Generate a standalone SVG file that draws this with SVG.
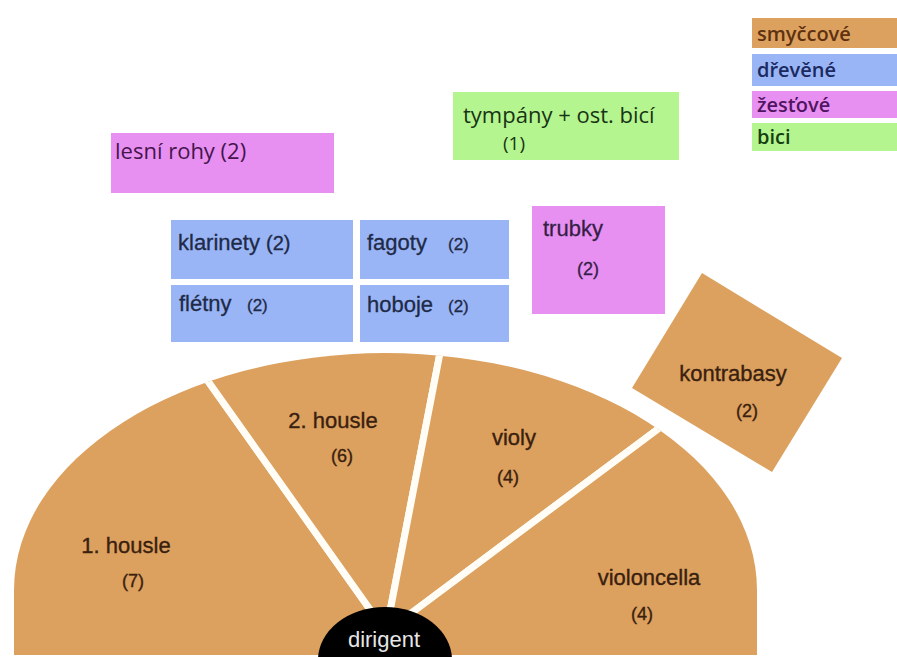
<svg xmlns="http://www.w3.org/2000/svg" width="897" height="657" viewBox="0 0 897 657">
<style>
.str{fill:#DCA15E}
.slice{fill:#DCA15E;stroke:#FFFDF6;stroke-width:7;stroke-linejoin:round}
.wood{fill:#9AB5F5}
.brass{fill:#E890F2}
.perc{fill:#B5F58F}
.ft{font-family:"Liberation Sans",Arial,sans-serif;fill:#3A200F;stroke:#3A200F;stroke-width:0.35}
.big{font-size:22px}
.num{font-size:18px}
.cal{font-family:"Open Sans","Noto Sans",sans-serif}
.leg{font-weight:600}
.lab{font-family:"Liberation Sans",Arial,sans-serif;stroke:#1E2A48;stroke-width:0.3}
</style>
<defs>
<clipPath id="fan"><path d="M14,655 L14,590 A371.5,237 0 0 1 757,590 L757,655 Z"/></clipPath>
</defs>
<rect width="897" height="657" fill="#FFFFFF"/>

<g id="legend">
<rect x="752" y="18" width="150" height="30" class="str"/>
<rect x="752" y="54" width="150" height="32" class="wood"/>
<rect x="752" y="91" width="150" height="27" class="brass"/>
<rect x="752" y="123" width="150" height="28" class="perc"/>
<text x="757" y="41" class="cal leg" font-size="20" fill="#5E3210">smyčcové</text>
<text x="757" y="77" class="cal leg" font-size="20" fill="#1A2A60">dřevěné</text>
<text x="757" y="112" class="cal leg" font-size="20" fill="#501460">žesťové</text>
<text x="757" y="144" class="cal leg" font-size="20" fill="#163E10">bici</text>
</g>

<g id="lesni-rohy">
<rect x="111" y="133" width="223" height="60" class="brass"/>
<text x="115" y="159" class="cal" font-size="22" fill="#45154C">lesní rohy (2)</text>
</g>

<g id="tympany">
<rect x="453" y="92" width="226" height="68" class="perc"/>
<text x="463" y="123" class="cal" font-size="22" fill="#183414">tympány + ost. bicí</text>
<text x="503" y="150" class="cal" font-size="19" fill="#183414">(1)</text>
</g>

<g id="klarinety">
<rect x="171" y="220" width="182" height="59" class="wood"/>
<text x="178" y="250" class="lab" font-size="22" fill="#1E2A48">klarinety <tspan font-size="20">(2)</tspan></text>
</g>
<g id="fagoty">
<rect x="360" y="220" width="149" height="59" class="wood"/>
<text x="367" y="250" class="lab" font-size="22" fill="#1E2A48">fagoty</text>
<text x="448" y="250" class="lab" font-size="17" fill="#1E2A48">(2)</text>
</g>
<g id="fletny">
<rect x="171" y="285" width="182" height="57" class="wood"/>
<text x="179" y="311" class="lab" font-size="22" fill="#1E2A48">flétny</text>
<text x="247" y="311" class="lab" font-size="17" fill="#1E2A48">(2)</text>
</g>
<g id="hoboje">
<rect x="360" y="285" width="149" height="57" class="wood"/>
<text x="367" y="312" class="lab" font-size="22" fill="#1E2A48">hoboje</text>
<text x="448" y="312" class="lab" font-size="17" fill="#1E2A48">(2)</text>
</g>

<g id="trubky">
<rect x="532" y="206" width="133" height="108" class="brass"/>
<text x="543" y="236" class="lab" font-size="22" fill="#3D1A45" stroke="#3D1A45">trubky</text>
<text x="577" y="275" class="lab" font-size="18" fill="#3D1A45" stroke="#3D1A45">(2)</text>
</g>

<g id="kontrabasy">
<polygon points="702,273 842,358 772,472 632,388" class="str"/>
<text x="733" y="381" class="ft big" text-anchor="middle">kontrabasy</text>
<text x="747" y="417" class="ft num" text-anchor="middle">(2)</text>
</g>

<g id="housle1">
<polygon points="386,632 39,143 -300,143 -300,800 386,800" class="slice" clip-path="url(#fan)"/>
<text x="126" y="553" class="ft big" text-anchor="middle">1. housle</text>
<text x="133" y="587" class="ft num" text-anchor="middle">(7)</text>
</g>
<g id="housle2">
<polygon points="386,632 39,143 500,43" class="slice" clip-path="url(#fan)"/>
<text x="333" y="428" class="ft big" text-anchor="middle">2. housle</text>
<text x="342" y="462" class="ft num" text-anchor="middle">(6)</text>
</g>
<g id="violy">
<polygon points="386,632 500,43 867,273" class="slice" clip-path="url(#fan)"/>
<text x="514" y="445" class="ft big" text-anchor="middle">violy</text>
<text x="508" y="483" class="ft num" text-anchor="middle">(4)</text>
</g>
<g id="violoncella">
<polygon points="386,632 867,273 1200,273 1200,800 386,800" class="slice" clip-path="url(#fan)"/>
<text x="649" y="585" class="ft big" text-anchor="middle">violoncella</text>
<text x="642" y="620" class="ft num" text-anchor="middle">(4)</text>
</g>

<g id="dirigent">
<ellipse cx="385" cy="660" rx="67" ry="53" fill="#000000"/>
<text x="384" y="647" font-family="Liberation Sans, Arial, sans-serif" font-size="22" fill="#E6E6E6" text-anchor="middle">dirigent</text>
</g>

<g id="connectors"/>
</svg>
